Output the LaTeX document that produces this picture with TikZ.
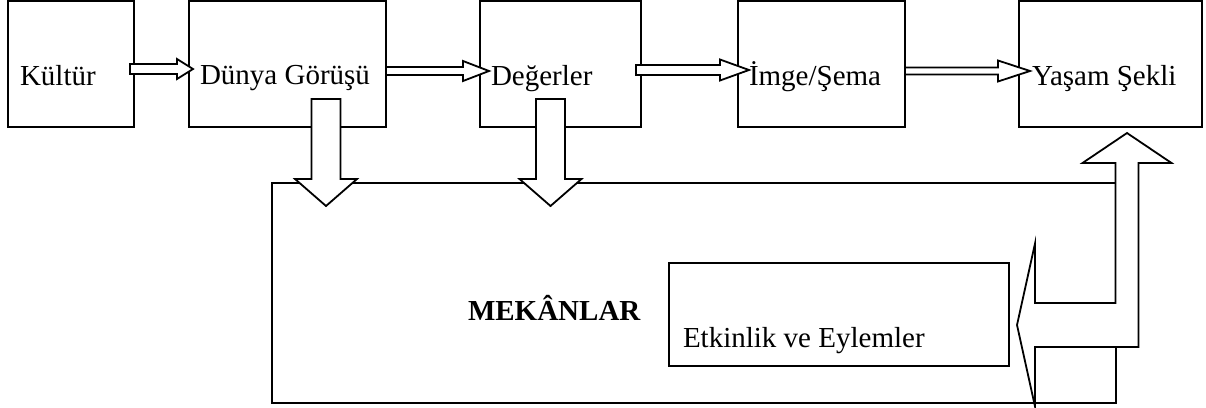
\documentclass[tikz,border=0pt]{standalone}
\usepackage{fontspec}
\setmainfont{Liberation Serif}
\usetikzlibrary{calc}

% block arrow pointing right: #1 tail, #2 tip, #3 head length, #4 shaft half-height, #5 head half-height
\newcommand\rightblock[5]{%
  \draw[blk] let \p1=#1, \p2=#2 in
    (\x1,\y2+#4) -- (\x2-#3,\y2+#4) -- (\x2-#3,\y2+#5) -- (\p2)
    -- (\x2-#3,\y2-#5) -- (\x2-#3,\y2-#4) -- (\x1,\y2-#4) -- cycle;}

% block arrow pointing down: #1 tail (shaft top centre), #2 gives the tip height
\newcommand\downblock[2]{%
  \draw[blk] let \p1=#1, \p2=#2 in
    (\x1-14.5pt,\y1) -- (\x1+14.5pt,\y1) -- (\x1+14.5pt,\y2+27pt) -- (\x1+31pt,\y2+27pt)
    -- (\x1,\y2) -- (\x1-31pt,\y2+27pt) -- (\x1-14.5pt,\y2+27pt) -- cycle;}

\begin{document}
\begin{tikzpicture}[x=1pt,y=-1pt,
  box/.style={draw, line width=2pt, rectangle, outer sep=0pt, inner sep=0pt},
  blk/.style={draw, fill=white, line width=1.8pt, line join=miter},
  lbl/.style={inner sep=0pt, outer sep=0pt, anchor=base west, font=\fontsize{29}{34}\selectfont}]
\useasboundingbox (0,0) rectangle (1206,407);

% top row of boxes
\node[box, minimum width=126pt, minimum height=126pt] (kultur)   at (71,64)     {};
\node[box, minimum width=197pt, minimum height=126pt] (dunya)    at (287.5,64)  {};
\node[box, minimum width=161pt, minimum height=126pt] (degerler) at (560.5,64)  {};
\node[box, minimum width=167pt, minimum height=126pt] (imge)     at (821.5,64)  {};
\node[box, minimum width=183pt, minimum height=126pt] (yasam)    at (1110.5,64) {};

% spaces frame and activities box
\node[box, minimum width=844pt, minimum height=220pt] (mekan)    at (694,293)   {};
\node[box, minimum width=340pt, minimum height=103pt] (etkinlik) at (839,314.5) {};

% arrows along the top row
\rightblock{([xshift=-4pt]kultur.east)}{($(dunya.west)+(4,5)$)}{16pt}{5pt}{10pt}
\rightblock{(dunya.east)}{($(degerler.west)+(9,7)$)}{26pt}{4pt}{10pt}
\rightblock{([xshift=-5pt]degerler.east)}{($(imge.west)+(11,6)$)}{29pt}{5pt}{10.5pt}
\rightblock{(imge.east)}{($(yasam.west)+(11,7)$)}{32pt}{3.5pt}{10.5pt}

% arrows down into the spaces frame
\downblock{($(dunya.south)+(38.5,-28)$)}{($(mekan.north)+(0,23)$)}
\downblock{($(degerler.south)+(-10,-28)$)}{($(mekan.north)+(0,23)$)}

% bent arrow from the activities back up to the way of life
\draw[blk] let \p1=($(yasam.south)+(16.5,6)$), \p2=($(etkinlik.east)+(8,10.5)$) in
  (\p1) -- (\x1+44.5pt,\y1-30pt) -- (\x1+11.5pt,\y1-30pt) -- (\x1+11.5pt,\y2-22pt)
  -- (\x2+18pt,\y2-22pt) -- (\x2+18pt,\y2-81.5pt) -- (\p2) -- (\x2+18pt,\y2+81.5pt)
  -- (\x2+18pt,\y2+22pt) -- (\x1-11.5pt,\y2+22pt) -- (\x1-11.5pt,\y1-30pt)
  -- (\x1-44.5pt,\y1-30pt) -- cycle;

% labels
\node[lbl] (tk) at (20,85)   {Kültür};
\node[lbl] (td) at (200,84)  {Dünya Görüşü};
\node[lbl] (tg) at (491,85)  {Değerler};
\node[lbl] (ti) at (749,85)  {İmge/Şema};
\node[lbl] (ty) at (1032,85) {Yaşam Şekli};
\node[lbl, font=\fontsize{29}{34}\selectfont\bfseries] (tm) at (468,320) {MEKÂNLAR};
\node[lbl] (te) at (683,347) {Etkinlik ve Eylemler};
\end{tikzpicture}
\end{document}
